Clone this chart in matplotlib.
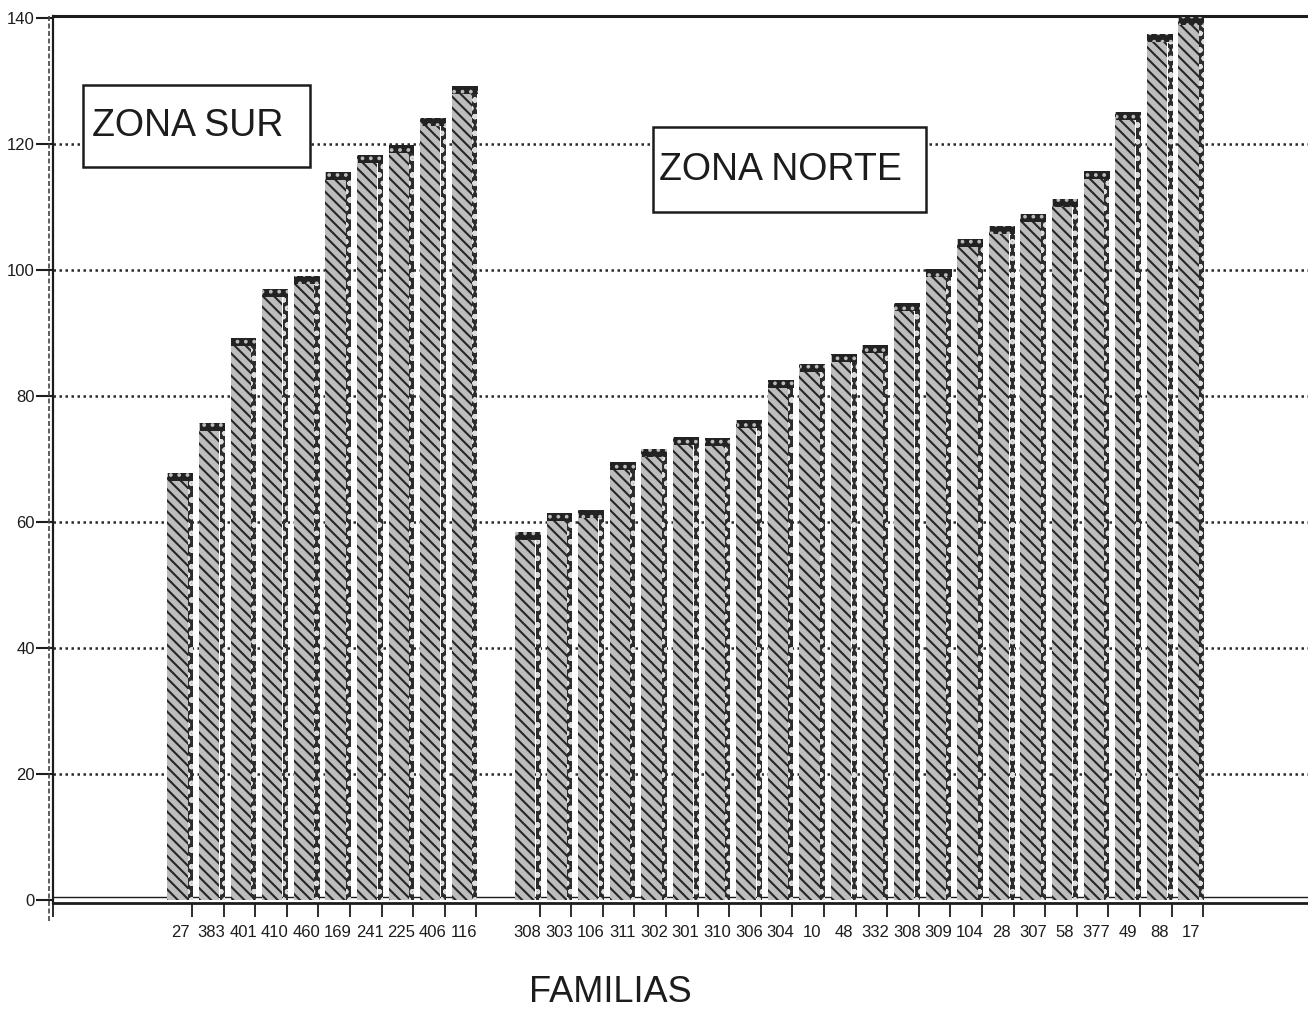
import matplotlib
matplotlib.use("Agg")
import matplotlib.pyplot as plt
from matplotlib.patches import Rectangle
from matplotlib.lines import Line2D
import numpy as np

# ── Data ──────────────────────────────────────────────────────────────────────

sur_labels = ["27", "383", "401", "410", "460", "169", "241", "225", "406", "116"]
sur_values = [67.8, 75.7, 89.2, 97.0, 99.0, 115.6, 118.3, 119.8, 124.1, 129.2]

norte_labels = ["308", "303", "106", "311", "302", "301", "310", "306", "304", "10",
                "48", "332", "308", "309", "104", "28", "307", "58", "377", "49",
                "88", "17"]
norte_values = [58.4, 61.4, 61.9, 69.5, 71.6, 73.5, 73.3, 76.2, 82.5, 85.1,
                86.7, 88.1, 94.8, 100.2, 104.9, 107.0, 108.9, 111.3, 115.7, 125.1,
                137.5, 140.2]

y_ticks = [0, 20, 40, 60, 80, 100, 120, 140]
grid_levels = [20, 40, 60, 80, 100, 120]

# ── Style ─────────────────────────────────────────────────────────────────────

W, H = 1308, 1010
FONT = ["Liberation Sans", "DejaVu Sans"]
INK = "#1c1c1c"

plt.rcParams["font.family"] = FONT
plt.rcParams["hatch.linewidth"] = 1.5


def fx(px):
    return px / W


def fy(py):
    return 1 - py / H


# one empty slot between the two zones
sur_x = np.arange(len(sur_values))
norte_x = np.arange(len(norte_values)) + len(sur_values) + 1
xs = np.concatenate([sur_x, norte_x])
values = sur_values + norte_values
labels = sur_labels + norte_labels

fig = plt.figure(figsize=(W / 100, H / 100), dpi=100)
fig.patch.set_facecolor("white")

ax = fig.add_axes([fx(53), fy(903), fx(1308 - 53), (903 - 16) / H])
ax.set_xlim(-4.02, 35.70)
ax.set_ylim(-0.5, 140.3)
ax.set_facecolor("white")

# dotted gridlines behind the bars
for g in grid_levels:
    ax.axhline(g, color="#2a2a2a", lw=1.8, linestyle=(0, (1.0, 1.4)), zorder=0.5)
ax.axhline(0.5, color=INK, lw=1.0, zorder=0.6)

# ── Bars: hatched face, dotted side strip, dark cap ──────────────────────────

vals = np.array(values)
ax.bar(xs - 0.08, vals, width=0.64, color="#bdbdbd", edgecolor="#262626",
       hatch="\\\\\\", linewidth=0, zorder=2)
ax.bar(xs + 0.335, vals, width=0.16, color="#2c2c2c", edgecolor="#dcdcdc",
       hatch="oo", linewidth=0, zorder=2)
ax.bar(xs + 0.02, np.full_like(vals, 1.3), bottom=vals - 1.3, width=0.80,
       color="#222222", edgecolor="#bcbcbc", hatch="..", linewidth=0, zorder=3)

# ── Axes frame ────────────────────────────────────────────────────────────────

ax.spines["right"].set_visible(False)
ax.spines["top"].set_linewidth(2.2)
ax.spines["top"].set_color(INK)
ax.spines["bottom"].set_linewidth(2.0)
ax.spines["bottom"].set_color(INK)
ax.spines["left"].set_linewidth(1.6)
ax.spines["left"].set_color(INK)
ax.add_line(Line2D([-0.0035, -0.0035], [-0.02, 1.0], transform=ax.transAxes,
                   color="#444444", lw=1.2, linestyle=(0, (3, 1.5)), clip_on=False))

ax.set_yticks(y_ticks)
ax.set_yticklabels([str(v) for v in y_ticks])
ax.tick_params(axis="y", length=12, width=1.5, color=INK, pad=1,
               labelsize=12, labelcolor=INK)

ax.set_xticks(xs)
ax.set_xticklabels(labels)
ax.set_xticks(list(xs + 0.38) + [-4.02], minor=True)
ax.tick_params(axis="x", which="major", length=0, pad=16,
               labelsize=12, labelcolor=INK)
ax.tick_params(axis="x", which="minor", length=10, width=1.3, color=INK)

# ── Zone boxes and axis title ─────────────────────────────────────────────────


def zone_box(x0, y0, x1, y1, text, tx):
    fig.add_artist(Rectangle((fx(x0), fy(y1)), fx(x1 - x0), (y1 - y0) / H,
                             transform=fig.transFigure, facecolor="white",
                             edgecolor=INK, linewidth=1.8, zorder=5))
    fig.text(fx(tx), fy((y0 + y1) / 2), text, fontsize=27, color=INK,
             ha="left", va="center", zorder=6)


zone_box(83, 85, 310, 167, "ZONA SUR", 92)
zone_box(653, 127, 926, 212, "ZONA NORTE", 659)

fig.text(fx(610), fy(993), "FAMILIAS", fontsize=26, color=INK,
         ha="center", va="center")

fig.savefig("out.png", dpi=100, facecolor="white")
